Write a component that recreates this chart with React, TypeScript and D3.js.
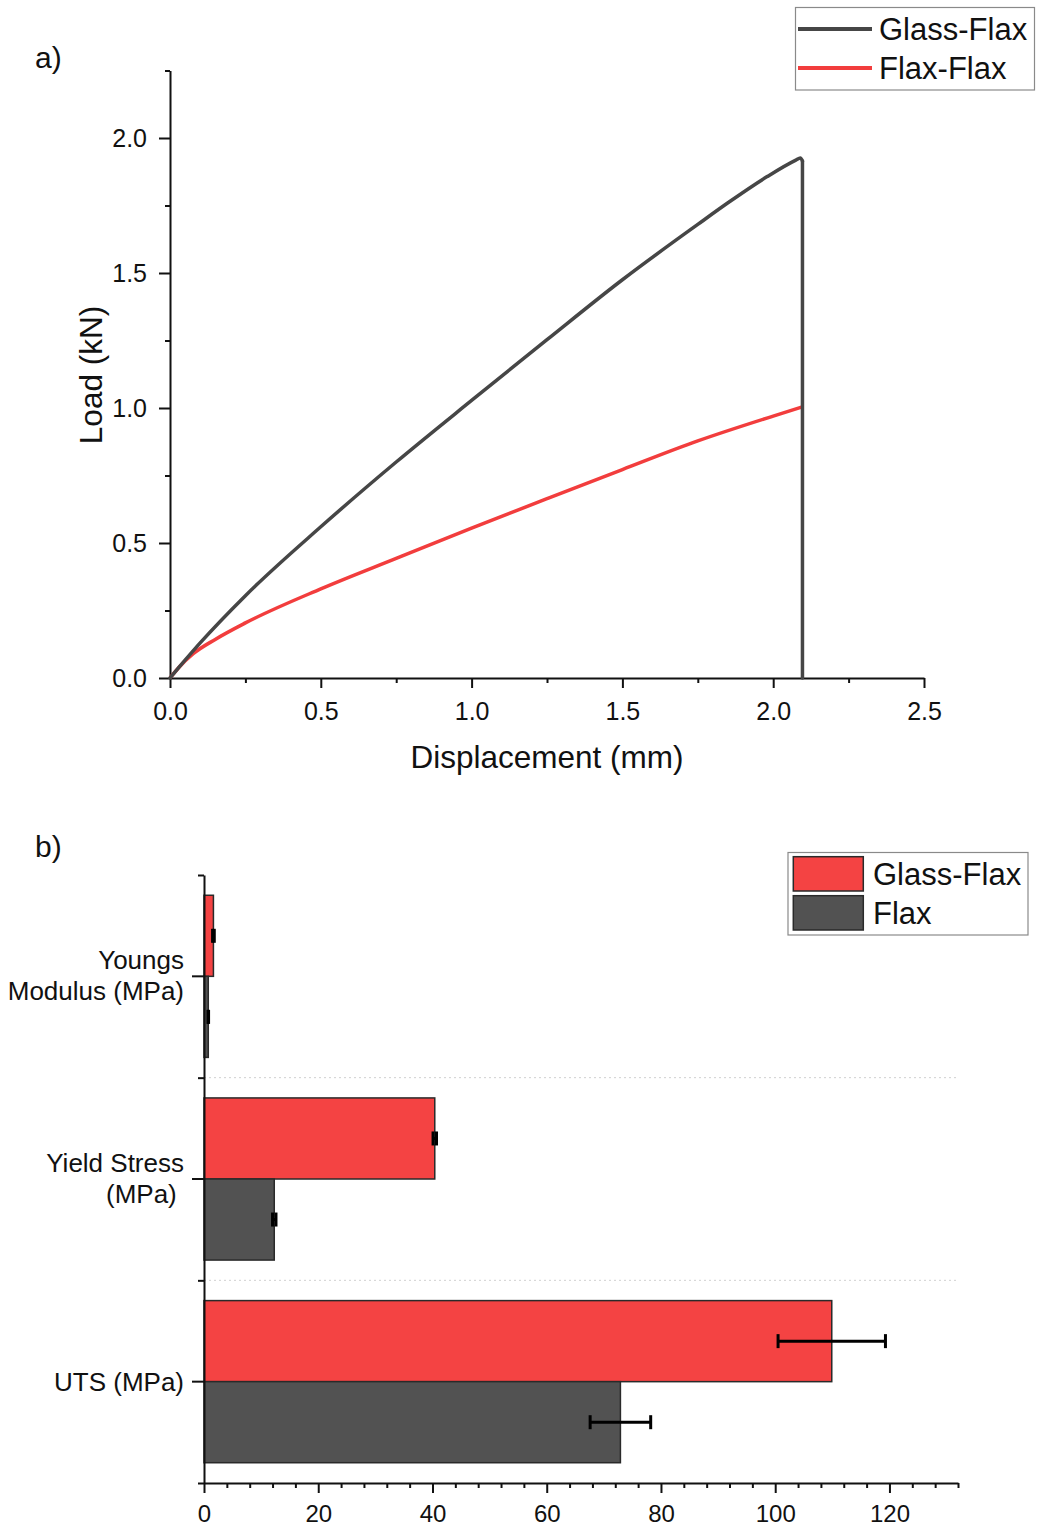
import React, { useEffect, useRef } from "react";
import * as d3 from "d3";

// panel a) load-displacement curves (read off the picture)
const glassFlaxDisp = [0, 0.05, 0.1, 0.25, 0.5, 0.75, 1.0, 1.25, 1.5, 1.75, 1.85, 1.98, 2.075, 2.09, 2.097, 2.097];
const glassFlaxLoad = [0, 0.066, 0.13, 0.305, 0.56, 0.8, 1.028, 1.253, 1.475, 1.68, 1.76, 1.857, 1.918, 1.926, 1.915, 0];
const flaxFlaxDisp = [0, 0.03, 0.077, 0.15, 0.25, 0.5, 0.75, 1.0, 1.25, 1.5, 1.75, 2.0, 2.094];
const flaxFlaxLoad = [0, 0.04, 0.09, 0.143, 0.204, 0.33, 0.443, 0.555, 0.664, 0.772, 0.878, 0.97, 1.003];
const dispTicks = [0, 0.5, 1.0, 1.5, 2.0, 2.5];
const dispMinor = [0.25, 0.75, 1.25, 1.75, 2.25];
const loadTicks = [0, 0.5, 1.0, 1.5, 2.0];
const loadMinor = [0.25, 0.75, 1.25, 1.75, 2.25];
const curveNames = ["Glass-Flax", "Flax-Flax"];

// panel b) mechanical properties
const categories = ["Youngs Modulus (MPa)", "Yield Stress (MPa)", "UTS (MPa)"];
const categoryLines = [["Youngs", "Modulus (MPa)"], ["Yield Stress", "(MPa) "], ["UTS (MPa)"]];
const barSeries = ["Glass-Flax", "Flax"];
const glassFlaxMean = [1.65, 40.4, 109.9];
const glassFlaxErr = [0.15, 0.3, 9.4];
const flaxMean = [0.75, 12.3, 72.9];
const flaxErr = [0.05, 0.3, 5.3];
const barTicks = [0, 20, 40, 60, 80, 100, 120];

const FONT = "'Liberation Sans', Arial, Helvetica, sans-serif";
const RED = "#f44343";
const GREY = "#525252";
const LINE_GREY = "#464646";
const LINE_RED = "#f23d3d";

function styleAxis(g: any, size: number) {
  g.attr("font-family", FONT).attr("font-size", size);
  g.select(".domain").attr("stroke", "#111").attr("stroke-width", 2);
  g.selectAll(".tick line").attr("stroke", "#111").attr("stroke-width", 2);
  g.selectAll(".tick text").attr("fill", "#111");
}

export default function App() {
  const ref = useRef<SVGSVGElement>(null);

  useEffect(() => {
    const svg = d3.select(ref.current);
    svg.selectAll("*").remove();

    // ---------- panel a ----------
    const x = d3.scaleLinear().domain([0, 2.5]).range([170, 924]);
    const y = d3.scaleLinear().domain([0, 2.25]).range([678, 70.5]);

    const xa = svg.append("g").attr("transform", "translate(0,678)")
      .call(d3.axisBottom(x).tickValues(dispTicks).tickSize(10).tickPadding(14).tickSizeOuter(0).tickFormat(d3.format(".1f")));
    styleAxis(xa, 25);
    const xm = svg.append("g").attr("transform", "translate(0,678)")
      .call(d3.axisBottom(x).tickValues(dispMinor).tickSize(5).tickFormat(() => ""));
    xm.select(".domain").remove();
    styleAxis(xm, 25);

    const ya = svg.append("g").attr("transform", "translate(170,0)")
      .call(d3.axisLeft(y).tickValues(loadTicks).tickSize(11).tickPadding(12).tickSizeOuter(0).tickFormat(d3.format(".1f")));
    styleAxis(ya, 25);
    const ym = svg.append("g").attr("transform", "translate(170,0)")
      .call(d3.axisLeft(y).tickValues(loadMinor).tickSize(5).tickFormat(() => ""));
    ym.select(".domain").remove();
    styleAxis(ym, 25);

    svg.append("text").attr("x", 547).attr("y", 768).attr("text-anchor", "middle")
      .attr("font-family", FONT).attr("font-size", 31.5).attr("fill", "#111").text("Displacement (mm)");
    svg.append("text").attr("transform", "translate(102,375) rotate(-90)").attr("text-anchor", "middle")
      .attr("font-family", FONT).attr("font-size", 31.5).attr("fill", "#111").text("Load (kN)");

    const gPts = glassFlaxDisp.map((d, i) => [d, glassFlaxLoad[i]] as [number, number]);
    const fPts = flaxFlaxDisp.map((d, i) => [d, flaxFlaxLoad[i]] as [number, number]);
    const lineLin = d3.line<[number, number]>().x((d) => x(d[0])).y((d) => y(d[1]));
    const lineSmooth = d3.line<[number, number]>().x((d) => x(d[0])).y((d) => y(d[1])).curve(d3.curveMonotoneX);

    svg.append("path").attr("d", lineSmooth(fPts)).attr("fill", "none")
      .attr("stroke", LINE_RED).attr("stroke-width", 3.5).attr("stroke-linejoin", "round");
    // rising part smooth, then the vertical failure drop
    svg.append("path").attr("d", lineSmooth(gPts.slice(0, -1))).attr("fill", "none")
      .attr("stroke", LINE_GREY).attr("stroke-width", 3.5).attr("stroke-linejoin", "round").attr("stroke-linecap", "round");
    svg.append("path").attr("d", lineLin(gPts.slice(-2))).attr("fill", "none")
      .attr("stroke", LINE_GREY).attr("stroke-width", 3.5).attr("stroke-linecap", "round");

    // legend a
    const la = svg.append("g");
    la.append("rect").attr("x", 795.5).attr("y", 7.5).attr("width", 239).attr("height", 82.5)
      .attr("fill", "white").attr("stroke", "#8a8a8a").attr("stroke-width", 1.2);
    curveNames.forEach((name, i) => {
      const cy = 29 + i * 39;
      la.append("line").attr("x1", 798).attr("x2", 872).attr("y1", cy).attr("y2", cy)
        .attr("stroke", i === 0 ? LINE_GREY : LINE_RED).attr("stroke-width", 4);
      la.append("text").attr("x", 879).attr("y", cy + 11).attr("font-family", FONT)
        .attr("font-size", 31).attr("fill", "#111").text(name);
    });

    svg.append("text").attr("x", 35).attr("y", 68).attr("font-family", FONT)
      .attr("font-size", 30).attr("fill", "#111").text("a)");

    // ---------- panel b ----------
    const bx = d3.scaleLinear().domain([0, 132]).range([204, 958]);
    const by = d3.scaleBand<string>().domain(categories).range([875, 1483]).paddingInner(0.2).paddingOuter(0.1);
    const sub = d3.scaleBand<string>().domain(barSeries).range([0, by.bandwidth()]);
    const sep = d3.scaleLinear().domain([0, categories.length]).range([875, 1483]);

    // dotted separators
    [1, 2].forEach((k) => {
      svg.append("line").attr("x1", bx(0)).attr("x2", bx(132)).attr("y1", sep(k)).attr("y2", sep(k))
        .attr("stroke", "#d0d0d0").attr("stroke-width", 1).attr("stroke-dasharray", "2,3");
    });

    const means = [glassFlaxMean, flaxMean];
    const errs = [glassFlaxErr, flaxErr];
    const fills = [RED, GREY];
    barSeries.forEach((s, si) => {
      const g = svg.append("g");
      categories.forEach((c, ci) => {
        const top = (by(c) as number) + (sub(s) as number);
        g.append("rect").attr("x", bx(0)).attr("y", top).attr("width", bx(means[si][ci]) - bx(0))
          .attr("height", sub.bandwidth()).attr("fill", fills[si]).attr("stroke", "#2a2a2a").attr("stroke-width", 1.5);
      });
    });
    barSeries.forEach((s, si) => {
      categories.forEach((c, ci) => {
        const cy = (by(c) as number) + (sub(s) as number) + sub.bandwidth() / 2;
        const lo = bx(means[si][ci] - errs[si][ci]);
        const hi = bx(means[si][ci] + errs[si][ci]);
        const g = svg.append("g").attr("stroke", "#000").attr("stroke-width", 3);
        g.append("line").attr("x1", lo).attr("x2", hi).attr("y1", cy).attr("y2", cy);
        g.append("line").attr("x1", lo).attr("x2", lo).attr("y1", cy - 7).attr("y2", cy + 7);
        g.append("line").attr("x1", hi).attr("x2", hi).attr("y1", cy - 7).attr("y2", cy + 7);
      });
    });

    const bxa = svg.append("g").attr("transform", "translate(0,1483)")
      .call(d3.axisBottom(bx).tickValues(barTicks).tickSize(10).tickPadding(12).tickSizeOuter(0));
    styleAxis(bxa, 24);
    const bxm = svg.append("g").attr("transform", "translate(0,1483)")
      .call(d3.axisBottom(bx).tickValues(d3.range(4, 133, 4).filter((v) => v % 20 !== 0)).tickSize(5).tickFormat(() => ""));
    bxm.select(".domain").remove();
    styleAxis(bxm, 24);

    const bya = svg.append("g").attr("transform", "translate(204,0)")
      .call(d3.axisLeft(by).tickSize(12).tickSizeOuter(0).tickFormat(() => ""));
    styleAxis(bya, 24);
    const bys = svg.append("g").attr("transform", "translate(204,0)")
      .call(d3.axisLeft(sep).tickValues(d3.range(0, categories.length + 1)).tickSize(6).tickFormat(() => ""));
    bys.select(".domain").remove();
    styleAxis(bys, 24);

    categories.forEach((c, ci) => {
      const cy = (by(c) as number) + by.bandwidth() / 2;
      const lines = categoryLines[ci];
      const t = svg.append("text").attr("text-anchor", "end").attr("font-family", FONT)
        .attr("font-size", 26).attr("fill", "#111").style("white-space", "pre");
      lines.forEach((ln, li) => {
        const base = lines.length === 1 ? cy + 9 : cy - 7 + li * 31;
        t.append("tspan").attr("x", 184).attr("y", base).text(ln);
      });
    });

    // legend b
    const lb = svg.append("g");
    lb.append("rect").attr("x", 788).attr("y", 852.5).attr("width", 240).attr("height", 82.5)
      .attr("fill", "white").attr("stroke", "#8a8a8a").attr("stroke-width", 1.2);
    barSeries.forEach((name, i) => {
      const top = 856.7 + i * 39;
      lb.append("rect").attr("x", 793.3).attr("y", top).attr("width", 70).attr("height", 34.3)
        .attr("fill", fills[i]).attr("stroke", "#2a2a2a").attr("stroke-width", 1.5);
      lb.append("text").attr("x", 873).attr("y", top + 28.5).attr("font-family", FONT)
        .attr("font-size", 31).attr("fill", "#111").text(name);
    });

    svg.append("text").attr("x", 35).attr("y", 857).attr("font-family", FONT)
      .attr("font-size", 30).attr("fill", "#111").text("b)");
  }, []);

  return (
    <svg ref={ref} width={1037} height={1530}
      style={{ position: "absolute", left: 0, top: 0, display: "block", background: "white" }} />
  );
}
